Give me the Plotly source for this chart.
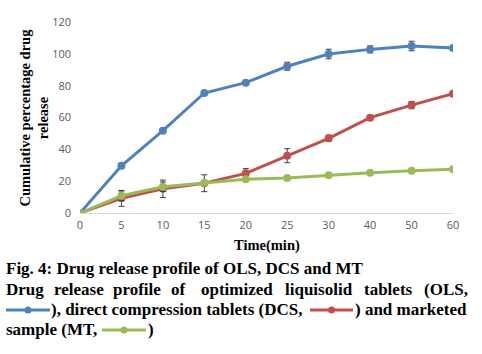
import plotly.graph_objects as go

time_labels = ["0", "5", "10", "15", "20", "25", "30", "40", "50", "60"]
ols = [0, 29.7, 51.7, 75.4, 81.9, 92.2, 99.9, 102.8, 104.9, 103.6]
ols_err = [0, 1.5, 1.2, 1.0, 1.2, 2.5, 3.0, 2.2, 3.0, 0.8]
dcs = [0, 9.2, 15.2, 18.7, 24.9, 36.0, 46.9, 59.9, 67.8, 74.9]
dcs_err = [0, 5.0, 5.5, 5.3, 3.0, 4.4, 2.0, 1.5, 2.3, 0.5]
mt = [0, 10.8, 16.5, 19.0, 21.2, 22.0, 23.7, 25.3, 26.5, 27.5]
mt_err = [0, 3.0, 3.0, 1.0, 0.8, 0.8, 0.8, 0.8, 0.8, 0.8]

names = ["OLS", "DCS", "MT"]
colors = ["#4F81BD", "#C0504D", "#9BBB59"]
series = [ols, dcs, mt]
errs = [ols_err, dcs_err, mt_err]

fig = go.Figure()
for n, c, s, e in zip(names, colors, series, errs):
    fig.add_trace(go.Scatter(
        x=list(range(len(time_labels))), y=s, name=n, mode="lines+markers",
        line=dict(color=c, width=3), marker=dict(color=c, size=8, symbol="circle"),
        error_y=dict(type="data", array=e, visible=True, color="#404040", thickness=1, width=3),
        showlegend=False))

L, R, T, B = 80, 29, 22, 141
W, H = 482, 354
pw, ph = W - L - R, H - T - B

def px(x):
    return (x - L) / pw

def py(y):
    return (H - B - y) / ph

serif = "Liberation Serif"
fs = 17
fig.update_layout(
    width=W, height=H, margin=dict(l=L, r=R, t=T, b=B),
    paper_bgcolor="white", plot_bgcolor="white",
    xaxis=dict(range=[0, len(time_labels) - 1], tickmode="array",
               tickvals=list(range(len(time_labels))), ticktext=time_labels,
               showgrid=False, zeroline=False, showline=True, linecolor="#D9D9D9",
               linewidth=1, ticks="", ticklabelstandoff=2,
               tickfont=dict(family="Open Sans", size=11, color="#595959")),
    yaxis=dict(range=[0, 120], dtick=20, showgrid=False, zeroline=False, showline=False,
               ticks="", ticklabelstandoff=8,
               tickfont=dict(family="Open Sans", size=11, color="#595959")),
)

ann = []
ann.append(dict(x=px(34), y=0.5, xref="paper", yref="paper", textangle=-90,
                text="<b>Cumulative percentage drug<br>release</b>", showarrow=False,
                font=dict(family=serif, size=14.5, color="black"), xanchor="center", yanchor="middle"))
ann.append(dict(x=0.5, y=py(245), xref="paper", yref="paper", text="<b>Time(min)</b>",
                showarrow=False, font=dict(family=serif, size=14.5, color="black"),
                xanchor="center", yanchor="middle"))
ann.append(dict(x=px(4), y=py(268), xref="paper", yref="paper",
                text="<b>Fig. 4: Drug release profile of OLS, DCS and MT</b>",
                showarrow=False, font=dict(family=serif, size=fs, color="black"),
                xanchor="left", yanchor="middle"))

def words(items, yc):
    for xw, t in items:
        ann.append(dict(x=px(xw), y=py(yc), xref="paper", yref="paper", text="<b>" + t + "</b>",
                        showarrow=False, font=dict(family=serif, size=fs, color="black"),
                        xanchor="left", yanchor="middle"))

words([(4, "Drug"), (52, "release"), (111, "profile"), (169, "of"), (199, "optimized"),
       (283, "liquisolid"), (362, "tablets"), (422, "(OLS,")], 289)
words([(49, "), direct compression tablets (DCS,"), (353, ") and marketed")], 309)
words([(4, "sample (MT,"), (146, ")")], 329)
fig.update_layout(annotations=ann)

shapes = []
def sym(x0, x1, yc, c):
    shapes.append(dict(type="line", xref="paper", yref="paper", x0=px(x0), x1=px(x1),
                       y0=py(yc), y1=py(yc), line=dict(color=c, width=3)))
    xm = (x0 + x1) / 2
    shapes.append(dict(type="circle", xref="paper", yref="paper", x0=px(xm - 3.5), x1=px(xm + 3.5),
                       y0=py(yc - 3.5), y1=py(yc + 3.5), fillcolor=c, line=dict(color=c, width=0)))
sym(6, 50, 310, colors[0])
sym(310, 353, 310, colors[1])
sym(102, 146, 330, colors[2])
fig.update_layout(shapes=shapes)

fig.write_html("out.html")
